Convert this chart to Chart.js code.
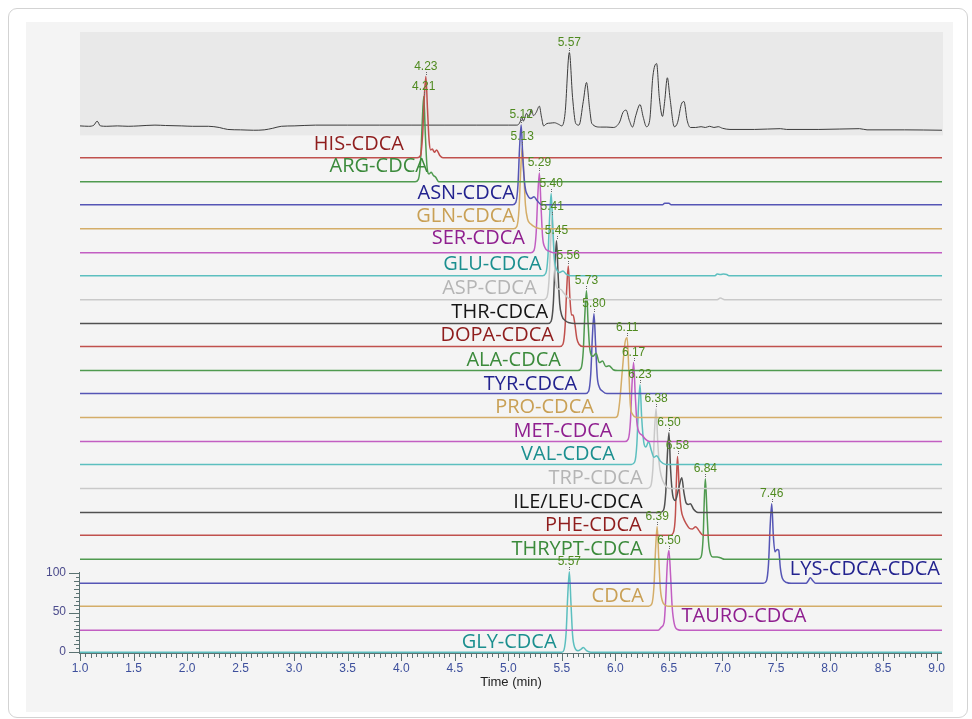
<!DOCTYPE html>
<html>
<head>
<meta charset="utf-8">
<script src="https://cdn.jsdelivr.net/npm/chart.js@4/dist/chart.umd.min.js"></script>
<style>
  html, body { margin: 0; padding: 0; background: #ffffff; width: 972px; height: 719px; overflow: hidden; }
  #card { position: absolute; left: 8px; top: 8px; width: 960px; height: 710px; box-sizing: border-box;
          border: 1.5px solid #d3d3d3; border-radius: 9px; }
  #panel { position: absolute; left: 26px; top: 22px; width: 927px; height: 690px; background: #f4f4f4; }
  canvas { position: absolute; left: 0; top: 0; }
</style>
</head>
<body>
<div id="card"></div>
<div id="panel"></div>
<canvas id="chrom" width="972" height="719"></canvas>
<script>
// ---- Chromatogram traces: [time (min), relative intensity (%)] ----
const ticTrace = [
  [1.00,-1],[1.08,-1.5],[1.13,0],[1.16,5],[1.19,-1],[1.25,-1.5],[1.35,-1],[1.45,-1.5],[1.55,-1],[1.70,0],
  [1.80,-0.5],[1.95,-1],[2.05,-1.5],[2.20,-1.5],[2.30,-3],[2.38,-5.5],[2.50,-6],[2.62,-6.5],[2.72,-6],
  [2.80,-4],[2.88,-1.5],[3.00,-1],[3.20,0],[3.50,0],[3.80,0],[4.10,0],[4.40,0],[4.70,0],[5.00,0],[5.08,0],
  [5.11,4],[5.125,11],[5.14,5],[5.17,15],[5.19,9],[5.215,20],[5.235,12],[5.26,16],[5.29,24],[5.31,10],
  [5.33,-1],[5.36,2],[5.39,2.5],[5.43,3],[5.47,1],[5.50,-1],[5.53,15],[5.57,92],[5.60,35],[5.63,2],
  [5.66,0],[5.70,30],[5.73,54],[5.76,20],[5.78,2],[5.86,-2.5],[5.92,-2.5],[5.98,-3],[6.04,4],[6.07,16],
  [6.10,19],[6.13,6],[6.16,-2.5],[6.19,12],[6.23,26],[6.26,10],[6.29,-2],[6.32,6],[6.35,62],[6.385,78],
  [6.41,35],[6.44,11],[6.46,30],[6.485,60],[6.51,34],[6.55,-2],[6.58,3],[6.615,26],[6.64,30],[6.67,6],
  [6.70,-3],[6.75,-3],[6.80,-2],[6.84,-3],[6.88,-1.5],[6.92,-3],[6.96,-2],[7.00,-4],[7.07,-5.5],[7.30,-5.5],
  [7.54,-4.5],[7.60,-5.5],[7.90,-5.5],[8.28,-4.5],[8.35,-6],[8.70,-6],[9.05,-6.5]
];
const hisCdca = [[1,0],[4.15,0],[4.18,3],[4.20,30],[4.215,75],[4.23,103],[4.245,62],[4.26,22],[4.275,10],[4.29,11],[4.31,7],[4.33,10],[4.36,3],[4.39,0],[9.05,0]];
const argCdca = [[1,0],[4.13,0],[4.16,3],[4.18,25],[4.195,72],[4.21,108],[4.225,60],[4.24,20],[4.26,10],[4.28,12],[4.30,8],[4.32,6],[4.35,0],[9.05,0]];
const asnCdca = [[1,0],[5.04,0],[5.07,3],[5.09,25],[5.105,72],[5.12,101],[5.135,60],[5.155,24],[5.18,12],[5.21,8],[5.24,10],[5.27,5],[5.31,0],[6.44,0],[6.46,2],[6.50,2],[6.52,0],[9.05,0]];
const glnCdca = [[1,0],[5.05,0],[5.08,3],[5.10,25],[5.115,72],[5.13,103],[5.145,68],[5.16,30],[5.18,12],[5.21,6],[5.25,2],[5.30,0],[9.05,0]];
const serCdca = [[1,0],[5.21,0],[5.24,3],[5.26,25],[5.275,72],[5.29,101],[5.305,60],[5.32,20],[5.34,7],[5.38,2],[5.42,0],[9.05,0]];
const gluCdca = [[1,0],[5.32,0],[5.35,3],[5.37,25],[5.385,72],[5.40,104],[5.415,62],[5.43,22],[5.45,8],[5.48,4],[5.51,6],[5.54,2],[5.58,0],[6.93,0],[6.95,2],[6.98,1.5],[7.01,2],[7.04,1.5],[7.06,0],[9.05,0]];
const aspCdca = [[1,0],[5.33,0],[5.36,3],[5.38,25],[5.395,72],[5.41,105],[5.425,62],[5.44,25],[5.46,14],[5.49,13],[5.52,8],[5.56,2],[5.60,0],[6.95,0],[6.98,2],[7.02,0],[9.05,0]];
const thrCdca = [[1,0],[5.37,0],[5.40,3],[5.42,25],[5.435,72],[5.45,105],[5.465,62],[5.48,25],[5.50,10],[5.53,4],[5.57,1],[5.62,0],[9.05,0]];
const dopaCdca = [[1,0],[5.48,0],[5.51,3],[5.53,25],[5.545,72],[5.56,102],[5.575,62],[5.59,40],[5.605,40],[5.62,30],[5.64,10],[5.66,3],[5.70,0],[9.05,0]];
const alaCdca = [[1,0],[5.65,0],[5.68,3],[5.70,25],[5.715,72],[5.73,101],[5.745,60],[5.76,28],[5.79,18],[5.82,22],[5.85,10],[5.88,12],[5.91,5],[5.94,6],[5.98,1],[6.02,0],[9.05,0]];
const tyrCdca = [[1,0],[5.72,0],[5.75,3],[5.77,25],[5.785,72],[5.80,101],[5.815,62],[5.83,22],[5.85,8],[5.88,3],[5.92,0],[9.05,0]];
const proCdca = [[1,0],[6.00,0],[6.02,2],[6.04,20],[6.065,60],[6.09,95],[6.11,101],[6.125,60],[6.14,15],[6.16,4],[6.20,0],[9.05,0]];
const metCdca = [[1,0],[6.09,0],[6.12,3],[6.14,25],[6.155,72],[6.17,100],[6.185,60],[6.20,25],[6.22,12],[6.25,8],[6.28,3],[6.32,0],[9.05,0]];
const valCdca = [[1,0],[6.15,0],[6.18,3],[6.20,25],[6.215,72],[6.23,101],[6.245,60],[6.265,28],[6.285,22],[6.31,29],[6.335,18],[6.36,9],[6.385,11],[6.42,4],[6.47,0],[9.05,0]];
const trpCdca = [[1,0],[6.30,0],[6.33,3],[6.35,25],[6.365,72],[6.38,101],[6.395,60],[6.41,30],[6.43,15],[6.46,5],[6.50,0],[9.05,0]];
const ileLeuCdca = [[1,0],[6.42,0],[6.45,3],[6.47,25],[6.485,72],[6.50,101],[6.515,55],[6.535,22],[6.56,15],[6.59,30],[6.62,44],[6.64,25],[6.66,12],[6.68,10],[6.70,11],[6.73,4],[6.77,0],[9.05,0]];
const pheCdca = [[1,0],[6.51,0],[6.54,3],[6.56,25],[6.57,70],[6.58,100],[6.595,62],[6.615,32],[6.635,22],[6.66,15],[6.69,9],[6.72,8],[6.75,11],[6.78,6],[6.82,0],[9.05,0]];
const thryptCdca = [[1,0],[6.77,0],[6.80,3],[6.82,30],[6.83,75],[6.84,102],[6.855,60],[6.87,22],[6.89,6],[6.91,3],[6.95,3],[6.98,2],[7.02,0],[9.05,0]];
const lysCdcaCdca = [[1,0],[7.38,0],[7.41,3],[7.43,25],[7.445,72],[7.46,101],[7.475,60],[7.49,40],[7.51,43],[7.525,42],[7.54,20],[7.56,6],[7.60,1],[7.64,0],[7.78,0],[7.80,3],[7.82,7],[7.84,4],[7.87,0],[9.05,0]];
const cdca = [[1,0],[6.31,0],[6.34,3],[6.36,25],[6.375,72],[6.39,101],[6.405,60],[6.42,22],[6.44,6],[6.47,1],[6.50,0],[9.05,0]];
const tauroCdca = [[1,0],[6.40,0],[6.43,4],[6.455,10],[6.47,40],[6.485,85],[6.50,101],[6.515,70],[6.53,30],[6.55,8],[6.58,1],[6.62,0],[9.05,0]];
const glyCdca = [[1,0],[5.50,0],[5.52,3],[5.54,25],[5.555,72],[5.57,102],[5.585,62],[5.60,22],[5.62,6],[5.65,2],[5.68,4],[5.70,6],[5.73,2],[5.77,0],[9.05,0]];

const traceData = [hisCdca, argCdca, asnCdca, glnCdca, serCdca, gluCdca, aspCdca, thrCdca, dopaCdca, alaCdca,
  tyrCdca, proCdca, metCdca, valCdca, trpCdca, ileLeuCdca, pheCdca, thryptCdca, lysCdcaCdca, cdca, tauroCdca, glyCdca];
const traceNames = ['HIS-CDCA','ARG-CDCA','ASN-CDCA','GLN-CDCA','SER-CDCA','GLU-CDCA','ASP-CDCA','THR-CDCA',
  'DOPA-CDCA','ALA-CDCA','TYR-CDCA','PRO-CDCA','MET-CDCA','VAL-CDCA','TRP-CDCA','ILE/LEU-CDCA','PHE-CDCA',
  'THRYPT-CDCA','LYS-CDCA-CDCA','CDCA','TAURO-CDCA','GLY-CDCA'];
// retention time of the main peak of each trace (min)
const retTimes = [4.23,4.21,5.12,5.13,5.29,5.40,5.41,5.45,5.56,5.73,5.80,6.11,6.17,6.23,6.38,6.50,6.58,6.84,7.46,6.39,6.50,5.57];
const ticRetTime = 5.57;
// vertical stacking offset of every trace (y units)
const traceOffsets = [626.6,596.2,567.1,536.7,506.3,477.2,446.8,416.5,387.3,357.0,327.8,297.5,267.1,238.0,207.6,177.2,148.1,117.7,87.3,58.2,27.8,0];
const ticOffset = 668;

// axis ticks
const xTickValues = [1.0,1.5,2.0,2.5,3.0,3.5,4.0,4.5,5.0,5.5,6.0,6.5,7.0,7.5,8.0,8.5,9.0];
const yTickValues = [0,50,100];

// ---- layout / style ----
const nameAnchors = [
  [4.025,645.6,'right'],[4.249,617.7,'right'],[5.062,583.5,'right'],[5.062,553.8,'right'],[5.155,526.6,'right'],
  [5.311,493.3,'right'],[5.264,462.9,'right'],[5.373,432.9,'right'],[5.426,403.2,'right'],[5.491,372.2,'right'],
  [5.643,340.9,'right'],[5.799,312.3,'right'],[5.972,281.6,'right'],[5.995,251.9,'right'],[6.254,221.5,'right'],
  [6.254,192.0,'right'],[6.245,162.0,'right'],[6.254,132.5,'right'],[7.629,106.3,'left'],[6.266,72.8,'right'],
  [6.618,46.8,'left'],[5.451,14.8,'right']
];
const ticBand = [655, 786];
const lineColors = ['#c0504d','#4f9a4f','#5555b5','#d4ad68','#c25ec2','#5cbfbf','#c9c9c9','#505050'];
const textColors = ['#8f1d1d','#3b8a3b','#23238f','#c9a055','#8f1f8f','#1b8f8f','#b5b5b5','#151515'];
const axisColor = '#5b7272';
const rtColor = '#4f8a1f';
const sansFont = '"Liberation Sans", Arial, sans-serif';

const datasets = traceData.map((pts, i) => ({
  label: traceNames[i],
  data: pts.map(([t, v]) => ({ x: t, y: traceOffsets[i] + v })),
  borderColor: lineColors[i % 8],
  borderWidth: 1.5
}));
datasets.push({
  label: 'TIC',
  data: ticTrace.map(([t, v]) => ({ x: t, y: ticOffset + v })),
  borderColor: '#3c3c3c',
  borderWidth: 1
});

function apexOf(pts, t) {
  const p = pts.find(q => Math.abs(q[0] - t) < 1e-9);
  return p ? p[1] : 100;
}

const decor = {
  id: 'decor',
  beforeDatasetsDraw(chart) {
    const { ctx, chartArea: a, scales: { y } } = chart;
    ctx.save();
    ctx.fillStyle = '#e9e9e9';
    const top = y.getPixelForValue(ticBand[1]);
    const bot = y.getPixelForValue(ticBand[0]);
    ctx.fillRect(a.left, top, a.right - a.left + 1, bot - top);
    ctx.restore();
  },
  afterDatasetsDraw(chart) {
    const { ctx, chartArea: a, scales: { x, y } } = chart;
    ctx.save();

    // x axis line with minor / major ticks
    ctx.fillStyle = axisColor;
    const yb = Math.round(a.bottom);
    ctx.fillRect(a.left - 1, yb, a.right - a.left + 1, 1);
    for (let k = 0; k <= 160; k++) {
      const t = 1 + k * 0.05;
      const len = (k % 10 === 0) ? 7 : (k % 2 === 0 ? 4 : 3);
      ctx.fillRect(Math.round(x.getPixelForValue(t)), yb + 1, 1, len);
    }

    // y axis (0-100 segment) with ticks and labels
    const x0 = Math.round(a.left) - 1;
    const p0 = y.getPixelForValue(0), p100 = y.getPixelForValue(100);
    ctx.fillRect(x0, Math.round(p100) - 1, 1, Math.round(p0 - p100) + 2);
    for (let v = 0; v <= 100; v += 5) {
      const len = (v % 50 === 0) ? 10 : (v % 10 === 0 ? 5 : 3);
      ctx.fillRect(x0 - len, Math.round(y.getPixelForValue(v)), len, 1);
    }
    ctx.fillStyle = '#4b4b8c';
    ctx.font = '12px ' + sansFont;
    ctx.textAlign = 'right';
    ctx.textBaseline = 'middle';
    yTickValues.forEach(v => ctx.fillText(String(v), x0 - 13, y.getPixelForValue(v) - 1));

    // compound names
    ctx.font = '20px "Open Sans", "Noto Sans", sans-serif';
    ctx.textBaseline = 'alphabetic';
    nameAnchors.forEach(([t, v, align], i) => {
      ctx.fillStyle = textColors[i % 8];
      ctx.textAlign = align;
      ctx.fillText(traceNames[i], x.getPixelForValue(t), y.getPixelForValue(v) + 7);
    });

    // retention time labels above the apex of each main peak
    const marks = retTimes.map((rt, i) => [rt, traceOffsets[i] + apexOf(traceData[i], rt)]);
    marks.push([ticRetTime, ticOffset + apexOf(ticTrace, ticRetTime)]);
    ctx.font = '12px ' + sansFont;
    ctx.textAlign = 'center';
    marks.forEach(([rt, v]) => {
      const px = x.getPixelForValue(rt);
      const py = y.getPixelForValue(v);
      ctx.fillStyle = '#666';
      ctx.fillRect(Math.round(px), Math.round(py) - 3, 1, 1);
      ctx.fillRect(Math.round(px), Math.round(py) - 5, 1, 1);
      ctx.fillStyle = rtColor;
      ctx.fillText(rt.toFixed(2), px, py - 7);
    });
    ctx.restore();
  }
};

new Chart(document.getElementById('chrom'), {
  type: 'line',
  data: { datasets },
  options: {
    responsive: false,
    animation: false,
    events: [],
    layout: { padding: { left: 80, right: 30, top: 32, bottom: 0 } },
    plugins: { legend: { display: false }, tooltip: { enabled: false } },
    elements: { point: { radius: 0 }, line: { cubicInterpolationMode: 'monotone' } },
    scales: {
      x: {
        type: 'linear', min: 1, max: 9.05,
        grid: { display: false, drawTicks: false },
        border: { display: false },
        afterBuildTicks: s => { s.ticks = xTickValues.map(v => ({ value: v })); },
        afterFit: s => { s.height = 66; },
        ticks: {
          padding: 8, color: '#3d4f9c', maxRotation: 0, autoSkip: false,
          font: { family: sansFont, size: 12 },
          callback: v => Number(v).toFixed(1)
        },
        title: {
          display: true, text: 'Time (min)', color: '#222',
          font: { family: sansFont, size: 13 },
          padding: { top: 0, bottom: 29 }
        }
      },
      y: { type: 'linear', min: -1, max: 786, display: false }
    }
  },
  plugins: [decor]
});
</script>
</body>
</html>
